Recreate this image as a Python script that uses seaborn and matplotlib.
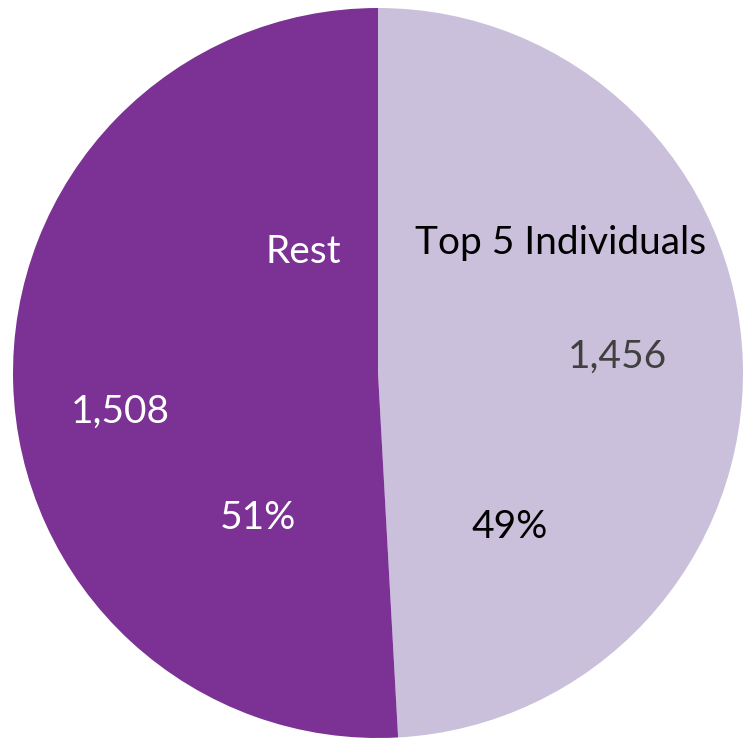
import matplotlib
matplotlib.use("Agg")

import matplotlib.pyplot as plt
import seaborn as sns

# Chart data
categories = ["Top 5 Individuals", "Rest"]
values = [1456, 1508]
value_labels = ["1,456", "1,508"]
percent_labels = ["49%", "51%"]

sns.set_theme(style="white")
plt.rcParams["font.family"] = ["Lato", "DejaVu Sans"]

colors = sns.color_palette(["#CAC0DB", "#7B3294"])

fig = plt.figure(figsize=(7.44, 7.41), dpi=100)
ax = fig.add_axes([0, 0, 1, 1])

ax.pie(
    values,
    colors=colors,
    startangle=90,
    counterclock=False,
    radius=1.0,
    center=(0, 0),
    wedgeprops={"linewidth": 0},
)

# Position the pie as in the reference (1 unit = 365 px)
ax.set_xlim(-378 / 365, (744 - 378) / 365)
ax.set_ylim(-368 / 365, 373 / 365)
ax.set_aspect("auto")
ax.axis("off")

fs = 28
# Top 5 Individuals slice labels
ax.text(0.499, 0.356, categories[0], ha="center", va="center", fontsize=fs, color="black")
ax.text(0.655, 0.044, value_labels[0], ha="center", va="center", fontsize=fs, color="#404040")
ax.text(0.362, -0.422, percent_labels[0], ha="center", va="center", fontsize=fs, color="black")

# Rest slice labels
ax.text(-0.205, 0.332, categories[1], ha="center", va="center", fontsize=fs, color="white")
ax.text(-0.707, -0.107, value_labels[1], ha="center", va="center", fontsize=fs, color="white")
ax.text(-0.329, -0.397, percent_labels[1], ha="center", va="center", fontsize=fs, color="white")

fig.savefig("out.png", dpi=100)
plt.close(fig)
